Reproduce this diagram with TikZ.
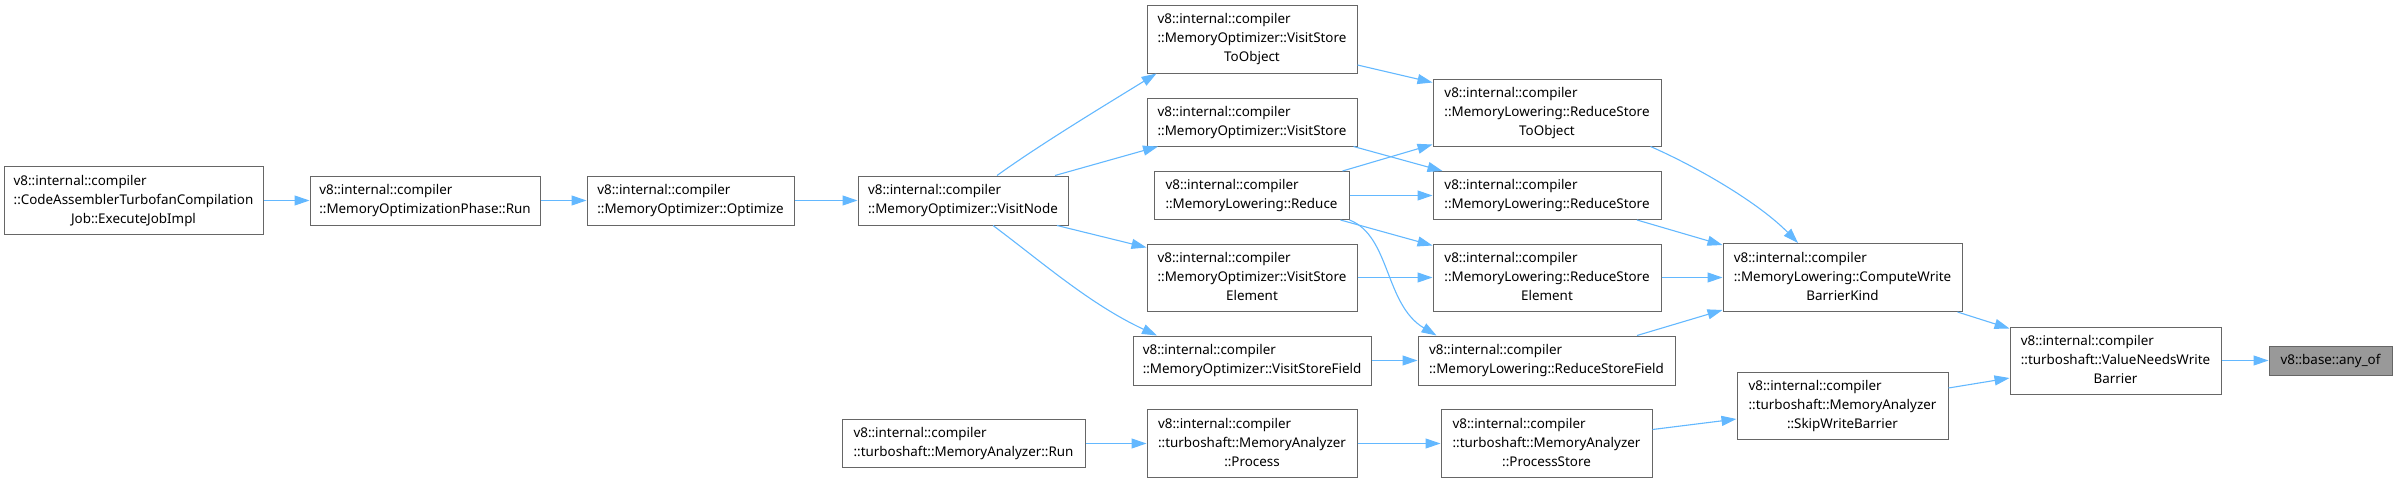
\documentclass[tikz,border=0pt]{standalone}
\usepackage{fontspec}
\setmainfont{Noto Sans}
\usetikzlibrary{arrows.meta,calc}
\definecolor{edgeblue}{HTML}{63B8FF}
\definecolor{boxgray}{HTML}{666666}
\definecolor{rootfill}{HTML}{999999}
\newcommand\twoL[2]{\begin{tabular}{@{}l@{}}#1\\#2\end{tabular}}
\newcommand\threeL[3]{\begin{tabular}{@{}l@{}}#1\\#2\\\multicolumn{1}{@{}c@{}}{#3}\end{tabular}}
\begin{document}
\begin{tikzpicture}[x=1pt,y=-1pt,
  box/.style={draw=boxgray, line width=1pt, fill=white, inner sep=0pt, font=\fontsize{13.4}{19}\selectfont},
  sz/.style n args={2}{minimum width=#1pt, minimum height=#2pt},
  link/.style={draw=edgeblue, line width=1.1pt, -{Triangle[length=15pt,width=10pt]}}]
\useasboundingbox (0,0) rectangle (2398,482);

\node[box,sz={259}{68}] (ca) at (133.5,200.5) {\threeL{v8::internal::compiler}{::CodeAssemblerTurbofanCompilation}{Job::ExecuteJobImpl}};
\node[box,sz={230}{49}] (pr) at (425,200.5) {\twoL{v8::internal::compiler}{::MemoryOptimizationPhase::Run}};
\node[box,sz={207}{49}] (op) at (690.5,200.5) {\twoL{v8::internal::compiler}{::MemoryOptimizer::Optimize}};
\node[box,sz={210}{49}] (vn) at (963,200.5) {\twoL{v8::internal::compiler}{::MemoryOptimizer::VisitNode}};
\node[box,sz={210}{68}] (vsto) at (1252,39) {\threeL{v8::internal::compiler}{::MemoryOptimizer::VisitStore}{ToObject}};
\node[box,sz={210}{48}] (vs) at (1252,122) {\twoL{v8::internal::compiler}{::MemoryOptimizer::VisitStore}};
\node[box,sz={195}{48}] (red) at (1251.5,195.5) {\twoL{v8::internal::compiler}{::MemoryLowering::Reduce}};
\node[box,sz={210}{67}] (vse) at (1252,277.5) {\threeL{v8::internal::compiler}{::MemoryOptimizer::VisitStore}{Element}};
\node[box,sz={238}{49}] (vsf) at (1252,360.5) {\twoL{v8::internal::compiler}{::MemoryOptimizer::VisitStoreField}};
\node[box,sz={243}{48}] (mar) at (963.5,443.5) {\twoL{v8::internal::compiler}{::turboshaft::MemoryAnalyzer::Run}};
\node[box,sz={210}{68}] (proc) at (1252,443.5) {\threeL{v8::internal::compiler}{::turboshaft::MemoryAnalyzer}{::Process}};
\node[box,sz={228}{67}] (rsto) at (1547,112.5) {\threeL{v8::internal::compiler}{::MemoryLowering::ReduceStore}{ToObject}};
\node[box,sz={228}{48}] (rs) at (1547,195.5) {\twoL{v8::internal::compiler}{::MemoryLowering::ReduceStore}};
\node[box,sz={228}{67}] (rse) at (1547,277.5) {\threeL{v8::internal::compiler}{::MemoryLowering::ReduceStore}{Element}};
\node[box,sz={257}{49}] (rsf) at (1546.5,360.5) {\twoL{v8::internal::compiler}{::MemoryLowering::ReduceStoreField}};
\node[box,sz={211}{68}] (ps) at (1546.5,443.5) {\threeL{v8::internal::compiler}{::turboshaft::MemoryAnalyzer}{::ProcessStore}};
\node[box,sz={239}{68}] (cwbk) at (1842.5,277.5) {\threeL{v8::internal::compiler}{::MemoryLowering::ComputeWrite}{BarrierKind}};
\node[box,sz={211}{67}] (swb) at (1842.5,405.5) {\threeL{v8::internal::compiler}{::turboshaft::MemoryAnalyzer}{::SkipWriteBarrier}};
\node[box,sz={211}{67}] (vnwb) at (2115.5,360.5) {\threeL{v8::internal::compiler}{::turboshaft::ValueNeedsWrite}{Barrier}};
\node[box,fill=rootfill,sz={123}{29}] (any) at (2330.5,360.5) {v8::base::any\_of};

\draw[link] (ca) -- (pr);
\draw[link] (pr) -- (op);
\draw[link] (op) -- (vn);
\draw[link] ($(vn.north)+(34,0)$) .. controls +(43,-31) and +(-52,32) .. ($(vsto.south west)+(10,0)$);
\draw[link] ($(vn.north)+(92,0)$) -- ($(vs.south)+(-94,0)$);
\draw[link] ($(vn.south)+(94,0)$) -- ($(vse.north west)+(0,4)$);
\draw[link] ($(vn.south)+(30,0)$) .. controls +(47,35) and +(-67,-31) .. ($(vsf.north)+(-95,0)$);
\draw[link] ($(vsto.east)+(0,26)$) -- ($(rsto.north west)+(0,4)$);
\draw[link] ($(vs.south east)+(-4,0)$) -- ($(rs.north west)+(10,0)$);
\draw[link] ($(red.north east)+(-7,0)$) -- ($(rsto.south west)+(0,-2)$);
\draw[link] (red) -- (rs);
\draw[link] ($(red.south east)+(-9,0)$) -- ($(rse.north west)+(0,2)$);
\draw[link] (red.south east) .. controls +(41,16) and +(-52,-31) .. ($(rsf.north west)+(19,0)$);
\draw[link] (vse) -- (rse);
\draw[link] (vsf) -- (rsf);
\draw[link] ($(rsto.south east)+(-11,0)$) .. controls +(50,22) and +(-38,-39) .. ($(cwbk.north)+(-44.5,0)$);
\draw[link] ($(rs.south)+(90,0)$) -- ($(cwbk.north west)+(0,2)$);
\draw[link] (rse) -- (cwbk);
\draw[link] ($(rsf.north)+(90.5,0)$) -- ($(cwbk.south west)+(0,-2)$);
\draw[link] ($(cwbk.south east)+(-5,0)$) -- ($(vnwb.north west)+(0,2)$);
\draw[link] ($(swb.east)+(0,-17.5)$) -- ($(vnwb.west)+(0,17.5)$);
\draw[link] (vnwb) -- (any);
\draw[link] (mar) -- (proc);
\draw[link] (proc) -- (ps);
\draw[link] ($(ps.east)+(0,-14)$) -- ($(swb.west)+(0,13.5)$);
\end{tikzpicture}
\end{document}
